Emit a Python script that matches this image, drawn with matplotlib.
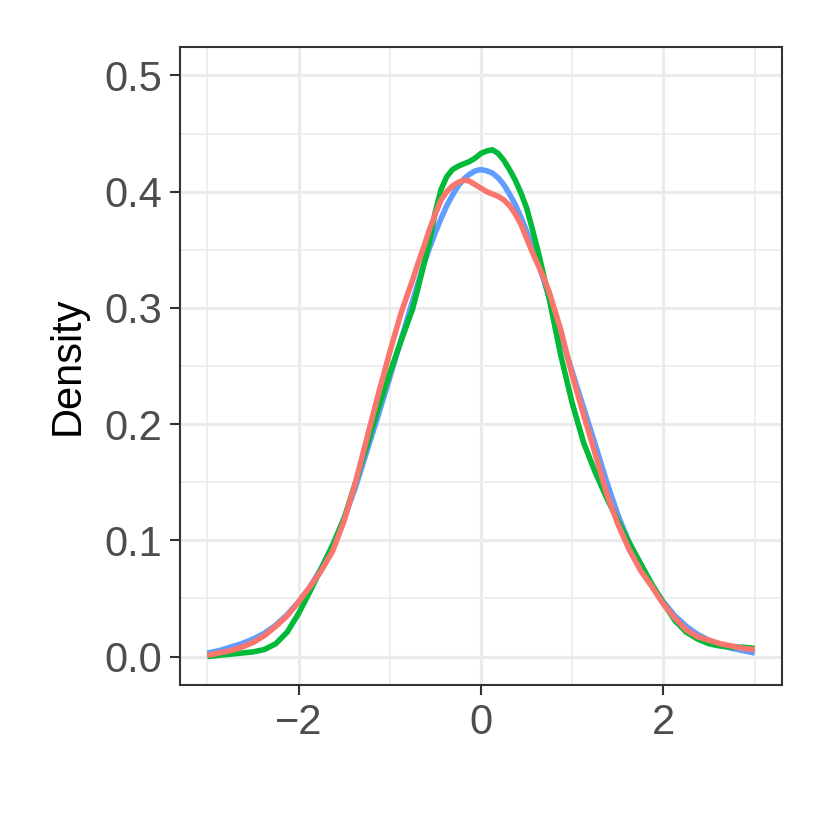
import matplotlib
matplotlib.use("Agg")
import matplotlib.pyplot as plt
from matplotlib.ticker import FixedLocator

# ── data (density curves on a shared x grid) ──
# finer spacing around the peak, where the curves bend the most
x_grid = [-3.0, -2.875, -2.75, -2.625, -2.5, -2.375, -2.25, -2.125,
          -2.0, -1.875, -1.75, -1.625, -1.5, -1.375, -1.25, -1.125,
          -1.0, -0.875,
          -0.75, -0.6875, -0.625, -0.5625, -0.5, -0.4375, -0.375, -0.3125,
          -0.25, -0.1875, -0.125, -0.0625, 0.0, 0.0625, 0.125, 0.1875,
          0.25, 0.3125, 0.375, 0.4375, 0.5, 0.5625, 0.625, 0.6875, 0.75,
          0.875, 1.0, 1.125, 1.25, 1.375, 1.5, 1.625, 1.75, 1.875,
          2.0, 2.125, 2.25, 2.375, 2.5, 2.625, 2.75, 2.875, 3.0]

blue_density = [0.003, 0.005, 0.008, 0.011, 0.015, 0.020, 0.027, 0.036,
                0.047, 0.060, 0.076, 0.096, 0.119, 0.146, 0.177, 0.208,
                0.240, 0.273,
                0.306, 0.322, 0.338, 0.352, 0.365, 0.377, 0.388, 0.397,
                0.405, 0.411, 0.415, 0.418, 0.419, 0.418, 0.416, 0.412,
                0.406, 0.398, 0.389, 0.378, 0.366, 0.353, 0.339, 0.324, 0.308,
                0.276, 0.245, 0.214, 0.183, 0.151, 0.122, 0.098, 0.078, 0.061,
                0.047, 0.035, 0.026, 0.019, 0.014, 0.010, 0.007, 0.005, 0.003]

green_density = [0.000, 0.001, 0.002, 0.003, 0.004, 0.006, 0.011, 0.021,
                 0.037, 0.056, 0.076, 0.096, 0.119, 0.150, 0.182, 0.214,
                 0.244, 0.272,
                 0.299, 0.318, 0.338, 0.358, 0.383, 0.402, 0.413, 0.419,
                 0.422, 0.424, 0.426, 0.429, 0.433, 0.435, 0.436, 0.433,
                 0.427, 0.419, 0.410, 0.399, 0.386, 0.368, 0.349, 0.328, 0.307,
                 0.259, 0.218, 0.184, 0.159, 0.137, 0.117, 0.098, 0.080, 0.062,
                 0.046, 0.031, 0.021, 0.015, 0.011, 0.009, 0.008, 0.008, 0.007]

red_density = [0.001, 0.003, 0.005, 0.008, 0.012, 0.018, 0.026, 0.035,
               0.047, 0.060, 0.074, 0.091, 0.117, 0.150, 0.188, 0.226,
               0.262, 0.296,
               0.324, 0.339, 0.353, 0.368, 0.381, 0.393, 0.400, 0.405,
               0.408, 0.410, 0.409, 0.406, 0.403, 0.400, 0.398, 0.396,
               0.393, 0.388, 0.381, 0.372, 0.360, 0.348, 0.337, 0.326, 0.313,
               0.281, 0.242, 0.208, 0.175, 0.141, 0.114, 0.092, 0.074, 0.060,
               0.045, 0.033, 0.023, 0.017, 0.014, 0.011, 0.009, 0.007, 0.006]

x_ticks = [-2, 0, 2]
x_tick_labels = ["\u22122", "0", "2"]
y_ticks = [0.0, 0.1, 0.2, 0.3, 0.4, 0.5]
y_tick_labels = ["0.0", "0.1", "0.2", "0.3", "0.4", "0.5"]

plt.rcParams['font.family'] = ['Liberation Sans', 'DejaVu Sans']

fig = plt.figure(figsize=(8.3, 8.3), dpi=100)
ax = fig.add_axes([180 / 830, 145 / 830, 602 / 830, 638 / 830])

# ── curves (blue under green under red) ─────────────────
ax.plot(x_grid, blue_density, color='#619CFF', lw=4.0, zorder=3,
        solid_capstyle='butt', solid_joinstyle='round')
ax.plot(x_grid, green_density, color='#00BA38', lw=4.0, zorder=4,
        solid_capstyle='butt', solid_joinstyle='round')
ax.plot(x_grid, red_density, color='#F8766D', lw=4.0, zorder=5,
        solid_capstyle='butt', solid_joinstyle='round')

ax.set_xlim(-3.3, 3.3)
ax.set_ylim(-0.0245, 0.5245)

# ── theme_bw look ──────────────────────────────────────
ax.set_xticks(x_ticks)
ax.set_xticklabels(x_tick_labels)
ax.set_yticks(y_ticks)
ax.set_yticklabels(y_tick_labels)
ax.xaxis.set_minor_locator(FixedLocator([-3, -1, 1, 3]))
ax.yaxis.set_minor_locator(FixedLocator([0.05, 0.15, 0.25, 0.35, 0.45]))

ax.grid(which='major', color='#EBEBEB', lw=2.3, zorder=0)
ax.grid(which='minor', color='#EBEBEB', lw=1.2, zorder=0)
ax.set_axisbelow(True)

ax.tick_params(which='major', length=7, width=1.5, color='#333333',
               labelsize=30, labelcolor='#4D4D4D', pad=6)
ax.tick_params(which='minor', length=0)

for sp in ax.spines.values():
    sp.set_color('#333333')
    sp.set_linewidth(1.5)

ax.set_ylabel('Density', fontsize=30, color='black', labelpad=12)

fig.savefig('out.png', dpi=100, facecolor='white')
